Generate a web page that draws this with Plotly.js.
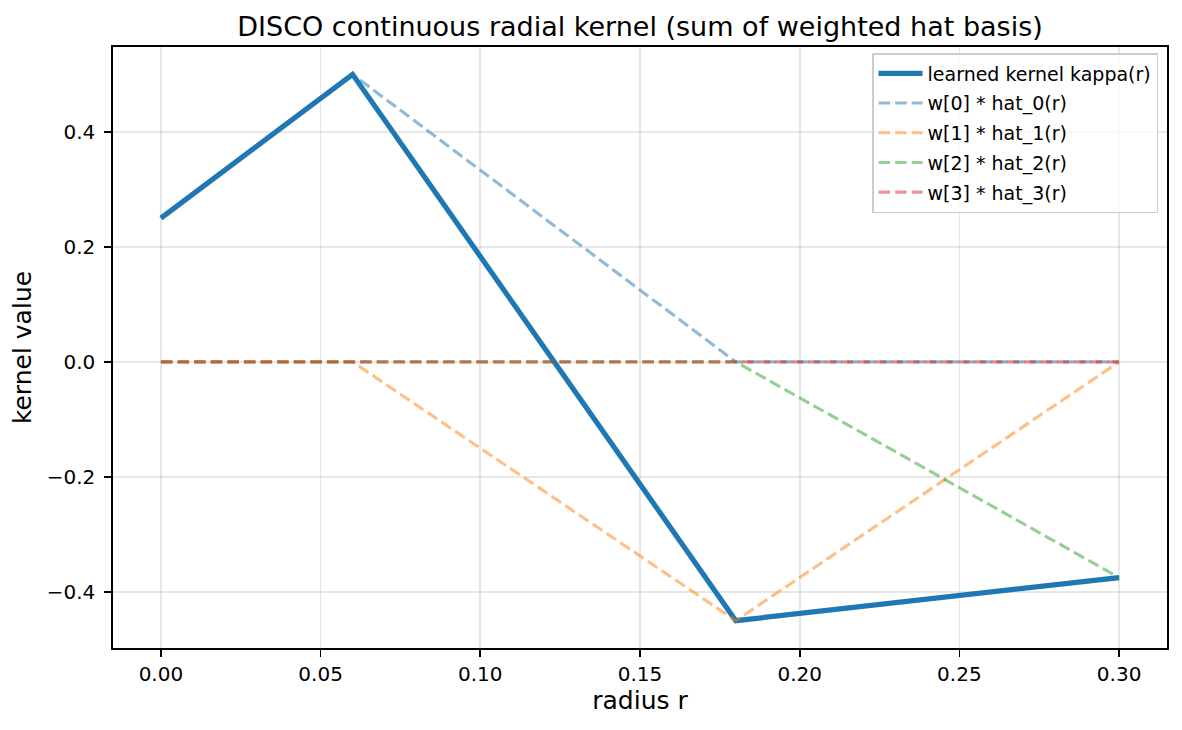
<!DOCTYPE html>
<html>
<head>
<meta charset="utf-8">
<script src="https://cdn.plot.ly/plotly-3.0.1.min.js"></script>
<style>
  html, body { margin: 0; padding: 0; background: #ffffff; }
  #chart { width: 1182px; height: 730px; }
</style>
</head>
<body>
<div id="chart"></div>
<script>
// Radius sample positions (hat-basis nodes)
const radius = [0.00, 0.06, 0.18, 0.30];

// Learned kernel kappa(r)
const kernelValues = [0.25, 0.50, -0.45, -0.375];

// Weighted hat basis components
const hat0Values = [0.25, 0.50, 0.00, 0.00];
const hat1Values = [0.00, 0.00, -0.45, 0.00];
const hat2Values = [0.00, 0.00, 0.00, -0.375];
const hat3Values = [0.00, 0.00, 0.00, 0.00];

const seriesNames = [
  'learned kernel kappa(r)',
  'w[0] * hat_0(r)',
  'w[1] * hat_1(r)',
  'w[2] * hat_2(r)',
  'w[3] * hat_3(r)'
];

// Axis ticks
const xTickVals = [0.00, 0.05, 0.10, 0.15, 0.20, 0.25, 0.30];
const xTickText = ['0.00', '0.05', '0.10', '0.15', '0.20', '0.25', '0.30'];
const yTickVals = [-0.4, -0.2, 0.0, 0.2, 0.4];
const yTickText = ['\u22120.4', '\u22120.2', '0.0', '0.2', '0.4'];

const FONT = '"DejaVu Sans", "Liberation Sans", sans-serif';
const dashStyle = '11.6px,5px';

const hatColors = ['#1f77b4', '#ff7f0e', '#2ca02c', '#d62728'];
const hatSeries = [hat0Values, hat1Values, hat2Values, hat3Values];

const traces = [{
  x: radius,
  y: kernelValues,
  type: 'scatter',
  mode: 'lines',
  name: seriesNames[0],
  legendgroup: 'g0',
  line: { color: '#1f77b4', width: 5.2 }
}];

hatSeries.forEach((vals, i) => {
  traces.push({
    x: radius,
    y: vals,
    type: 'scatter',
    mode: 'lines',
    name: seriesNames[i + 1],
    legendgroup: 'g' + (i + 1),
    opacity: 0.5,
    line: { color: hatColors[i], width: 3.1, dash: dashStyle }
  });
});

const axisCommon = {
  showline: true,
  mirror: true,
  linecolor: '#000000',
  linewidth: 1.67,
  ticks: 'outside',
  ticklen: 7,
  tickwidth: 1.67,
  tickcolor: '#000000',
  showgrid: true,
  gridcolor: 'rgba(176,176,176,0.3)',
  gridwidth: 1.67,
  zeroline: false,
  tickfont: { family: FONT, size: 20, color: '#000000' },
  tickmode: 'array'
};

const layout = {
  width: 1182,
  height: 730,
  paper_bgcolor: '#ffffff',
  plot_bgcolor: '#ffffff',
  margin: { l: 113, r: 15, t: 47, b: 82 },
  font: { family: FONT, color: '#000000' },
  title: {
    text: 'DISCO continuous radial kernel (sum of weighted hat basis)',
    font: { family: FONT, size: 27, color: '#000000' },
    x: 0.5,
    xref: 'paper',
    xanchor: 'center',
    y: 1,
    yref: 'paper',
    yanchor: 'bottom',
    pad: { b: 11 }
  },
  xaxis: Object.assign({}, axisCommon, {
    range: [-0.015, 0.315],
    tickvals: xTickVals,
    ticktext: xTickText,
    ticklabelstandoff: 0,
    title: { text: 'radius r', font: { family: FONT, size: 25, color: '#000000' }, standoff: 6 }
  }),
  yaxis: Object.assign({}, axisCommon, {
    range: [-0.4975, 0.5475],
    tickvals: yTickVals,
    ticktext: yTickText,
    ticklabelstandoff: 5,
    title: { text: 'kernel value', font: { family: FONT, size: 25, color: '#000000' }, standoff: 8 }
  }),
  showlegend: true,
  legend: {
    x: 0.9915,
    y: 0.99,
    xanchor: 'right',
    yanchor: 'top',
    bgcolor: 'rgba(255,255,255,0.8)',
    bordercolor: '#cccccc',
    borderwidth: 1.5,
    font: { family: FONT, size: 19, color: '#000000' },
    itemwidth: 44,
    tracegroupgap: 2
  }
};

Plotly.newPlot('chart', traces, layout, { displayModeBar: false, staticPlot: true });
</script>
</body>
</html>
